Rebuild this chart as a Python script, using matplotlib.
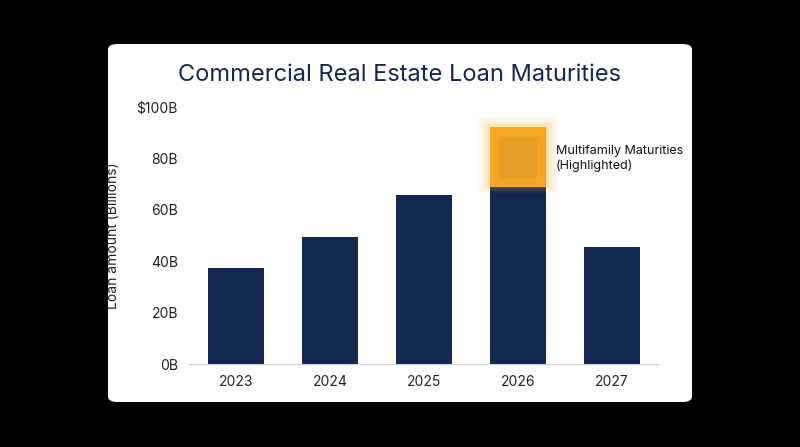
import matplotlib
matplotlib.use("Agg")
import matplotlib.pyplot as plt
from matplotlib.patches import FancyBboxPatch, Rectangle

years = ["2023", "2024", "2025", "2026", "2027"]
values = [37.4, 49.4, 65.8, 68.9, 45.5]
highlight_year_index = 3
highlight_base = 68.9
highlight_top = 92.2
yticks = [0, 20, 40, 60, 80, 100]
ytick_labels = ["0B", "20B", "40B", "60B", "80B", "$100B"]

navy = "#13284f"
orange = "#f5a623"

plt.rcParams['font.family'] = ['Inter', 'DejaVu Sans']
fig = plt.figure(figsize=(8, 4.47), dpi=100)
fig.patch.set_facecolor("black")

card = FancyBboxPatch((108/800, 1-402/447), 584/800, 358/447,
                      boxstyle="round,pad=0,rounding_size=0.012",
                      transform=fig.transFigure, facecolor="white", edgecolor="none",
                      zorder=-5)
fig.patches.append(card)

ax = fig.add_axes([189/800, 1-364/447, 470/800, 257/447])
ax.set_zorder(5)
ax.set_facecolor("none")
x = range(len(years))
ax.bar(x, values, width=0.6, color=navy, zorder=2)

# highlighted segment with glow
hx = highlight_year_index
h = highlight_top - highlight_base
for i, a in enumerate([0.05, 0.07, 0.09, 0.12]):
    pad = 0.12 - i*0.03
    padv = 4.0 - i*1.0
    ax.add_patch(Rectangle((hx-0.3-pad, highlight_base-padv*0.6), 0.6+2*pad, h+2*padv*0.8,
                           facecolor=orange, alpha=a, edgecolor="none", zorder=3))
ax.add_patch(Rectangle((hx-0.3, highlight_base), 0.6, h, facecolor=orange,
                       edgecolor="none", zorder=4))
ax.add_patch(Rectangle((hx-0.2, highlight_base+3), 0.4, h-7, facecolor="#c8922a",
                       alpha=0.35, edgecolor="none", zorder=5))
ax.text(hx+0.4, 80, "Multifamily Maturities\n(Highlighted)", fontsize=9,
        va="center", ha="left", color="#111111", zorder=6)

ax.set_xlim(-0.5, 4.5)
ax.set_ylim(0, 100)
ax.set_xticks(list(x))
ax.set_xticklabels(years, fontsize=10, color="#222222")
ax.set_yticks(yticks)
ax.set_yticklabels(ytick_labels, fontsize=10, color="#222222")
for s in ["top", "right", "left"]:
    ax.spines[s].set_visible(False)
ax.spines["bottom"].set_color("#cccccc")
ax.tick_params(length=0, pad=8)
ax.set_ylabel("Loan amount (Billions)", fontsize=10, color="#222222", labelpad=12)

fig.text(400/800, 1-75/447, "Commercial Real Estate Loan Maturities", ha="center",
         va="center", fontsize=17, color="#13284f")

fig.savefig("out.png", dpi=100, facecolor="black")
